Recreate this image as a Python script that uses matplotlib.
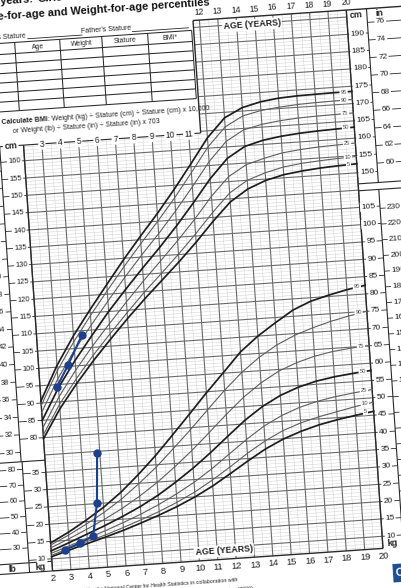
import matplotlib
matplotlib.use("Agg")
import matplotlib.pyplot as plt
from matplotlib.transforms import Affine2D
from matplotlib.patches import Polygon

plt.rcParams['font.family'] = ['Liberation Sans', 'DejaVu Sans']

#------------------------- DATA -------------------------
ages = [2, 3, 4, 5, 6, 7, 8, 9, 10, 11, 12, 13, 14, 15, 16, 17, 18, 19, 20]

# stature-for-age percentiles, cm
stature_p5 = [79.7, 88.0, 94.9, 101.2, 107.0, 112.6, 117.9, 122.9, 127.9, 133.2, 138.9, 144.1, 147.5, 149.6, 150.9, 151.6, 152.1, 152.4, 152.6]
stature_p10 = [80.8, 89.3, 96.3, 102.7, 108.6, 114.3, 119.8, 124.9, 130.1, 135.6, 141.4, 146.7, 150.0, 151.8, 153.1, 153.8, 154.2, 154.5, 154.7]
stature_p25 = [82.8, 91.5, 98.8, 105.4, 111.5, 117.4, 123.1, 128.5, 134.0, 139.8, 146.1, 151.4, 154.5, 156.0, 157.2, 157.8, 158.2, 158.4, 158.6]
stature_p50 = [85.0, 94.1, 101.6, 108.4, 115.0, 121.0, 126.8, 132.4, 138.3, 144.6, 151.2, 156.7, 159.8, 161.2, 162.0, 162.5, 162.8, 163.0, 163.2]
stature_p75 = [87.3, 96.7, 104.5, 111.4, 118.0, 124.5, 130.6, 136.4, 142.6, 149.2, 156.1, 161.6, 164.6, 165.8, 166.5, 166.9, 167.1, 167.2, 167.3]
stature_p90 = [89.3, 99.0, 107.0, 114.2, 121.0, 127.6, 133.9, 140.0, 146.4, 153.3, 160.4, 165.8, 168.6, 169.8, 170.4, 170.8, 171.0, 171.1, 171.2]
stature_p95 = [90.6, 100.5, 108.7, 115.9, 122.8, 129.6, 136.0, 142.2, 148.8, 155.8, 163.0, 168.4, 171.0, 172.3, 173.0, 173.3, 173.4, 173.5, 173.5]

# weight-for-age percentiles, kg
weight_p5 = [10.6, 12.2, 13.7, 15.2, 16.8, 18.6, 20.5, 22.6, 25.0, 27.8, 31.0, 34.3, 37.4, 39.9, 41.8, 43.3, 44.4, 45.3, 46.1]
weight_p10 = [11.0, 12.7, 14.3, 15.8, 17.6, 19.5, 21.5, 23.8, 26.4, 29.5, 32.9, 36.5, 39.7, 42.3, 44.2, 45.6, 46.7, 47.8, 48.7]
weight_p25 = [11.6, 13.4, 15.2, 17.0, 19.0, 21.1, 23.5, 26.2, 29.2, 32.7, 36.6, 40.5, 44.0, 46.7, 48.7, 50.1, 51.1, 51.8, 52.4]
weight_p50 = [12.3, 14.3, 16.4, 18.5, 20.8, 23.3, 26.2, 29.6, 33.3, 37.4, 41.8, 46.1, 49.7, 52.5, 54.5, 55.9, 56.8, 57.4, 57.9]
weight_p75 = [13.2, 15.4, 17.8, 20.3, 23.1, 26.3, 29.9, 34.0, 38.4, 43.2, 48.1, 52.7, 56.5, 59.5, 61.6, 63.1, 64.1, 64.7, 65.1]
weight_p90 = [14.0, 16.5, 19.3, 22.3, 25.8, 29.9, 34.3, 39.3, 44.4, 49.8, 55.1, 59.9, 63.9, 67.1, 69.5, 71.3, 72.8, 74.0, 75.0]
weight_p95 = [14.6, 17.3, 20.4, 23.8, 27.8, 32.5, 37.6, 43.2, 48.9, 54.7, 60.2, 65.8, 70.0, 73.5, 76.8, 79.0, 80.4, 81.6, 82.5]

pct_names = ['5', '10', '25', '50', '75', '90', '95']

# the child's plotted measurements
child_stature_age = [2.92, 3.60, 4.47]
child_stature_cm = [94.3, 100.4, 108.8]
child_weight_age = [2.75, 3.59, 4.33, 4.66, 4.85]
child_weight_kg = [12.3, 14.0, 15.7, 25.2, 39.5]

# scale labels
left_cm = list(range(80, 165, 5))
left_in = list(range(30, 66, 2))
left_kg = list(range(10, 40, 5))
left_lb = list(range(30, 90, 10))
right_cm = list(range(150, 195, 5))
right_in = list(range(60, 78, 2))
right_kg = list(range(10, 110, 5))
right_lb = list(range(30, 240, 10))
top_left_ages = list(range(3, 12))
top_right_ages = list(range(12, 21))
bottom_ages = list(range(2, 21))

table_cols = ['Age', 'Weight', 'Stature', 'BMI*']

#------------------------- FIGURE -------------------------
fig = plt.figure(figsize=(4.01, 5.88), dpi=100)
fig.patch.set_facecolor('white')
ax = fig.add_axes([0, 0, 1, 1])
ax.set_xlim(0, 401)
ax.set_ylim(588, 0)
ax.axis('off')

# the paper sheet is photographed slightly turned
TILT = 3.9
chart = Affine2D().scale(18.4, -3.47).translate(-23.2, 717.2).rotate_deg(-TILT) + ax.transData
wt = Affine2D().translate(0, 35) + chart   # weight kg sits 35 units below stature cm
KG_LB = 0.4536
IN_CM = 2.54

P_BOT, P_TOP = 41.5, 197.0
GRID = '#6a6a6a'
INK = '#2a2a2a'


def line(x, y, tr=chart, **kw):
    kw.setdefault('color', INK)
    kw.setdefault('lw', 0.7)
    ax.plot(x, y, transform=tr, solid_capstyle='butt', **kw)


def label(x, y, s, tr=chart, size=5.5, box=False, **kw):
    kw.setdefault('color', '#222222')
    if box:
        kw['bbox'] = dict(boxstyle='square,pad=0.15', fc='white', ec='none')
    ax.text(x, y, s, transform=tr, rotation=TILT, rotation_mode='anchor',
            ha=kw.pop('ha', 'center'), va=kw.pop('va', 'center'), fontsize=size, **kw)


# grid
for i in range(int(P_BOT) + 1, int(P_TOP) + 1):
    if i % 5 == 0:
        line([2, 20], [i, i], color=GRID, lw=0.8, zorder=1)
    else:
        line([2, 20], [i, i], color='#d2d2d2', lw=0.35, zorder=0.5)
for k in range(4, 41):
    a = k / 2
    if k % 2 == 0:
        line([a, a], [P_BOT, P_TOP], color=GRID, lw=0.8, zorder=1)
    else:
        line([a, a], [P_BOT, P_TOP], color='#d2d2d2', lw=0.35, zorder=0.5)
for a in (2, 20):
    line([a, a], [P_BOT, P_TOP], color=INK, lw=1.0, zorder=2)
line([2, 20], [P_BOT, P_BOT], color=INK, lw=1.0, zorder=2)
line([11.65, 23], [P_TOP, P_TOP], color=INK, lw=1.0, zorder=2)

# percentile curves
stature_sets = [stature_p5, stature_p10, stature_p25, stature_p50, stature_p75, stature_p90, stature_p95]
weight_sets = [weight_p5, weight_p10, weight_p25, weight_p50, weight_p75, weight_p90, weight_p95]
for name, st, w in zip(pct_names, stature_sets, weight_sets):
    major = name in ('5', '50', '95')
    c = '#1e1e1e' if major else '#5e5e5e'
    lw = 1.25 if major else 0.8
    ax.plot(ages, st, color=c, lw=lw, transform=chart, zorder=4)
    ax.plot(ages, w, color=c, lw=lw, transform=wt, zorder=4)
    label(19.55, st[-1], name, size=4.2, box=True, color='#444444', zorder=5)
    label(19.55, w[-1], name, tr=wt, size=4.2, box=True, color='#444444', zorder=5)

# the child's points
ax.plot(child_stature_age, child_stature_cm, '-o', color='#1d3f8c', ms=5, lw=1.5,
        transform=chart, zorder=7)
ax.plot(child_weight_age, child_weight_kg, '-o', color='#1d3f8c', ms=5, lw=1.5,
        transform=wt, zorder=7)

# left scales ---------------------------------------------------------
for v in left_cm:
    line([0.7, 2], [v, v], lw=0.6, zorder=2)
    label(1.45, v, str(v), box=True, zorder=3)
for v in left_in:
    p = v * IN_CM
    if 74 < p < 165:
        line([-1.5, 0.7], [p, p], lw=0.6, zorder=2)
        label(0.12, p, str(v), box=True, zorder=3)
for v in left_kg:
    line([0.75, 2], [v, v], tr=wt, lw=0.6, zorder=2)
    label(1.47, v, str(v), tr=wt, box=True, zorder=3)
for v in left_lb:
    line([-1.5, 0.75], [v * KG_LB, v * KG_LB], tr=wt, lw=0.6, zorder=2)
    label(0.15, v * KG_LB, str(v), tr=wt, box=True, zorder=3)
line([0.7, 0.7], [73.5, 166.5], lw=0.8)
line([0.75, 0.75], [P_BOT, 73.5], lw=0.8)
line([-2, 2], [73.5, 73.5], lw=0.8)
line([-2, 2], [44.3, 44.3], lw=0.8)
line([-2, 2], [P_BOT, P_BOT], lw=0.8)
label(-0.2, 42.9, 'lb', size=6.5, weight='bold')
label(1.35, 42.9, 'kg', size=6.5, weight='bold')

# right scales --------------------------------------------------------
for v in right_cm:
    line([20, 21.1], [v, v], lw=0.6, zorder=2)
    label(20.52, v, str(v), size=6, box=True, zorder=3)
for v in right_in:
    line([21.1, 23], [v * IN_CM, v * IN_CM], lw=0.6, zorder=2)
    label(21.8, v * IN_CM, str(v), size=6, box=True, zorder=3)
for v in right_kg:
    line([20, 21.1], [v, v], tr=wt, lw=0.6, zorder=2)
    label(20.47, v, str(v), tr=wt, size=6, box=True, zorder=3)
for v in right_lb:
    line([21.1, 23], [v * KG_LB, v * KG_LB], tr=wt, lw=0.6, zorder=2)
    label(21.85, v * KG_LB, str(v), tr=wt, size=6, box=True, zorder=3)
line([21.1, 21.1], [146.8, P_TOP], lw=0.8)
line([21.1, 21.1], [P_BOT, 144.8], lw=0.8)
line([20, 23], [146.8, 146.8], lw=0.8)
line([20, 23], [144.8, 144.8], lw=0.8)
label(20.5, 195.5, 'cm', size=6.5, weight='bold')
label(21.8, 195.5, 'in', size=6.5, weight='bold')
label(20.55, 42.9, 'kg', size=6.5, weight='bold')

# age labels
for a in bottom_ages:
    label(a, 39.3, str(a), size=6.8)
for a in top_right_ages:
    label(a, 199.2, str(a), size=6.2)
label(11.37, 43.9, 'AGE (YEARS)', size=6.3, weight='bold', box=True, zorder=3)
label(14.83, 194.6, 'AGE (YEARS)', size=6.3, weight='bold', box=True, zorder=3)

# record table in the top left corner ---------------------------------
tb = Polygon([(-5, 164.5), (11.65, 164.5), (11.65, 215), (-5, 215)], closed=True,
             transform=chart, fc='white', ec='none', zorder=3)
ax.add_patch(tb)
line([0.7, 11.65], [164.5, 164.5], lw=0.8, zorder=4)
line([11.65, 11.65], [164.5, P_TOP], lw=1.0, zorder=4)
for a in top_left_ages:
    label(a, 164.5, str(a), size=6.2, box=True, zorder=5)
label(1.3, 164.6, 'cm', size=6.5, weight='bold', box=True, zorder=5)

row_lines = [194.2, 191.0, 188.3, 185.5, 182.8, 180.0, 177.3, 174.5]
col_lines = [1.9, 4.35, 6.64, 9.14, 11.54]
for r in row_lines:
    line([-3, 11.54], [r, r], lw=0.75, zorder=4)
for c in col_lines:
    line([c, c], [row_lines[-1], row_lines[0]], lw=0.75, zorder=4)
for name, a in zip(table_cols, [3.13, 5.5, 7.89, 10.34]):
    label(a, 192.5, name, size=5, zorder=5)
label(0.0, 192.5, 'Date', size=5, zorder=5)
label(2.5, 195.9, "Mother's Stature", size=5, ha='right', zorder=5)
line([2.6, 5.6], [195.0, 195.0], lw=0.6, zorder=4)
label(6.9, 195.9, "Father's Stature", size=5, zorder=5)
line([8.3, 11.4], [195.0, 195.0], lw=0.6, zorder=4)
label(3.39, 171.3, '*To Calculate BMI', size=5, ha='right', weight='bold', zorder=5)
label(3.39, 171.3, ': Weight (kg) ÷ Stature (cm) ÷ Stature (cm) x 10,000', size=5, ha='left', zorder=5)
label(5.46, 168.6, 'or Weight (lb) ÷ Stature (in) ÷ Stature (in) x 703', size=5, zorder=5)

# titles
label(12.63, 202.0, 'Stature-for-age and Weight-for-age percentiles', size=7.9,
      ha='right', weight='bold', color='#111111', zorder=5)
label(3.05, 206.3, '2 to 20 years:', size=7.9, ha='right', weight='bold', color='#111111', zorder=5)
label(3.3, 206.3, 'Girls', size=7.9, ha='left', weight='bold', color='#111111', zorder=5)

# footer
label(12.03, 35.3, 'SOURCE: Developed by the National Center for Health Statistics in collaboration with',
      size=3.8, ha='right')
label(12.9, 32.4, 'the National Center for Chronic Disease Prevention and Health Promotion (2000).',
      size=3.8, ha='right')
logo = Polygon([(20.45, 31.5), (21.5, 31.5), (21.5, 36.8), (20.45, 36.8)], closed=True,
               transform=chart, fc='#1d4f91', ec='none', zorder=3)
ax.add_patch(logo)
label(20.8, 34.2, 'C', size=8, color='white', weight='bold', zorder=4)

fig.savefig('out.png', dpi=100, facecolor='white')
